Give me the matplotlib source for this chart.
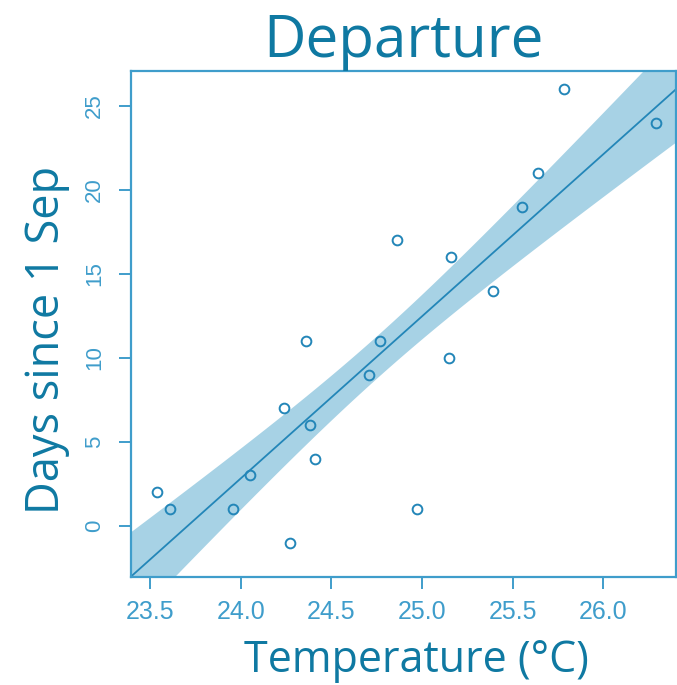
import numpy as np
import matplotlib
matplotlib.use('Agg')
import matplotlib.pyplot as plt

# temperature (deg C) vs departure day (days since 1 Sep)
temperature = [23.54, 23.61, 23.96, 24.05, 24.24, 24.27, 24.36, 24.38, 24.41, 24.71,
               24.77, 24.86, 24.97, 25.16, 25.15, 25.39, 25.55, 25.64, 25.78, 26.29]
days = [2, 1, 1, 3, 7, -1, 11, 6, 4, 9,
        11, 17, 1, 16, 10, 14, 19, 21, 26, 24]

x_ticks = [23.5, 24.0, 24.5, 25.0, 25.5, 26.0]
y_ticks = [0, 5, 10, 15, 20, 25]

TITLE_COL = '#0f79a2'
TICK_COL = '#3f9dcb'
POINT_COL = '#2386b8'
BAND_COL = '#a7d2e5'

x = np.array(temperature)
y = np.array(days)

# ordinary least squares + 80% CI of the mean response
n = len(x)
slope, intercept = np.polyfit(x, y, 1)
resid = y - (slope * x + intercept)
s = np.sqrt(np.sum(resid ** 2) / (n - 2))
sxx = np.sum((x - x.mean()) ** 2)
t_crit = 1.330   # t(0.90, df=18)

xs = np.linspace(23.2, 26.6, 200)
fit = slope * xs + intercept
half = t_crit * s * np.sqrt(1 / n + (xs - x.mean()) ** 2 / sxx)

fig = plt.figure(figsize=(6.77, 6.85), dpi=100)
ax = fig.add_axes([0.1935, 0.158, 0.805, 0.739])

ax.fill_between(xs, fit - half, fit + half, color=BAND_COL, linewidth=0, zorder=1)
ax.plot(xs, fit, color=POINT_COL, linewidth=1.3, zorder=2)
ax.plot(x, y, linestyle='none', marker='o', markersize=7, markerfacecolor='none',
        markeredgecolor=POINT_COL, markeredgewidth=1.4, zorder=3)

ax.set_xlim(23.395, 26.40)
ax.set_ylim(-3.04, 27.1)
ax.set_xticks(x_ticks)
ax.set_xticklabels([f'{v:.1f}' for v in x_ticks])
ax.set_yticks(y_ticks)
ax.set_yticklabels([str(v) for v in y_ticks], rotation=90, va='center')

for sp in ax.spines.values():
    sp.set_color(TICK_COL)
    sp.set_linewidth(1.6)

ax.tick_params(axis='both', direction='out', length=8.5, width=1.4, color=TICK_COL,
               labelcolor=TICK_COL)
ax.tick_params(axis='x', labelsize=18, pad=8)
ax.tick_params(axis='y', labelsize=16, pad=10)
for lab in ax.get_xticklabels() + ax.get_yticklabels():
    lab.set_family('Liberation Sans')

ax.set_title('Departure', fontsize=42, color=TITLE_COL, family='Open Sans', pad=0)
ax.set_xlabel('Temperature (°C)', fontsize=31, color=TITLE_COL, family='Open Sans')
ax.set_ylabel('Days since 1 Sep', fontsize=32.5, color=TITLE_COL, family='Open Sans')
ax.xaxis.set_label_coords(0.523, -0.122)
ax.yaxis.set_label_coords(-0.112, 0.468)

fig.savefig('out.png', dpi=100)
